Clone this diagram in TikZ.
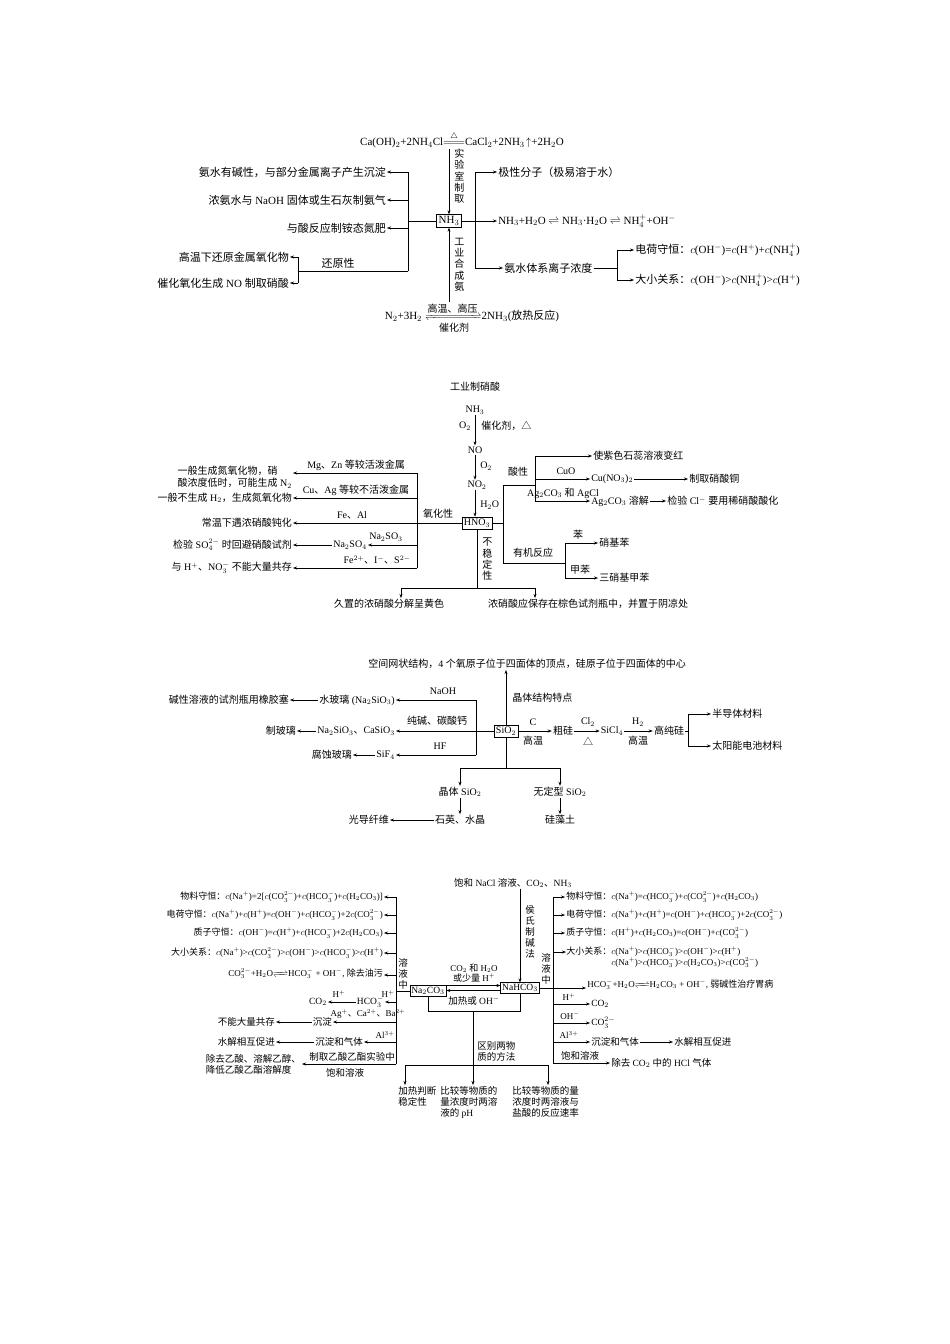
\documentclass[tikz,border=0pt]{standalone}
\usepackage{amsmath,mathtools}
\usepackage{fontspec}
\setmainfont{Liberation Serif}
\newfontfamily\cjk{Noto Sans CJK SC}
\newfontfamily\lat{Liberation Serif}
\usetikzlibrary{arrows.meta}
\XeTeXinterchartokenstate=1
\newXeTeXintercharclass\cjkclass
\newcount\cc
\def\setrange#1#2{\cc=#1\relax\loop\XeTeXcharclass\cc=\cjkclass\ifnum\cc<#2\advance\cc 1\repeat}
\setrange{"3000}{"303F}
\setrange{"4E00}{"9FFF}
\setrange{"FF00}{"FFEF}
\setrange{"25A0}{"25FF}
\XeTeXinterchartoks 0 \cjkclass={\cjk}
\XeTeXinterchartoks 4095 \cjkclass={\cjk}
\XeTeXinterchartoks \cjkclass 0={\lat}
\XeTeXinterchartoks \cjkclass 4095={\lat}
\newcommand\fA{\fontsize{11}{13}\selectfont}
\newcommand\fB{\fontsize{10}{12}\selectfont}
\newcommand\fC{\fontsize{9}{11}\selectfont}
\newcommand\fD{\fontsize{9.5}{11}\selectfont}
\tikzset{
  every node/.style={inner sep=1pt,font=\fB},
  arr/.style={-{Stealth[length=4pt,width=3pt]}},
  bx/.style={draw,inner sep=2pt},
  vt/.style={align=center,font=\fontsize{10}{11.2}\selectfont},
  lb/.style={font=\fB},
}
\begin{document}
\begin{tikzpicture}[x=1pt,y=-1pt,line width=0.5pt]
\useasboundingbox (0,0) rectangle (950,1344);
% ===== Section 1 =====
\begin{scope}[every node/.style={inner sep=1pt,font=\fA}]
\node[bx] (nh3) at (449,221) {NH$_3$};
\node (eq1) at (462,140) {Ca(OH)$_2$+2NH$_4$Cl$\stackrel{\triangle}{=\!=\!=}$CaCl$_2$+2NH$_3\!\uparrow$+2H$_2$O};
\draw[arr] (nh3.north |- eq1.south) -- (nh3.north);
\node[vt,anchor=north west] (v1) at (453,148) {实\\验\\室\\制\\取};
\node (eq2) at (472,318) {N$_2$+3H$_2\xrightleftharpoons[\mbox{\fontsize{10}{10}\selectfont 催化剂}]{\mbox{\fontsize{10}{10}\selectfont 高温、高压}}$2NH$_3$(放热反应)};
\draw[arr] (nh3.south |- eq2.north) -- (nh3.south);
\node[vt,anchor=north west] (v2) at (453,237) {工\\业\\合\\成\\氨};
% left
\draw (nh3.west) -- (408,221);
\draw (408,172) -- (408,271);
\node[anchor=east] (t1) at (387,172) {氨水有碱性，与部分金属离子产生沉淀};
\node[anchor=east] (t2) at (387,200) {浓氨水与 NaOH 固体或生石灰制氨气};
\node[anchor=east] (t3) at (387,228) {与酸反应制铵态氮肥};
\draw[arr] (408,172) -- (t1.east);
\draw[arr] (408,200) -- (t2.east);
\draw[arr] (408,228) -- (t3.east);
\draw (408,271) -- (298,271);
\draw (298,257) -- (298,283);
\node (hy) at (338,263) {还原性};
\node[anchor=east] (t4) at (290,257) {高温下还原金属氧化物};
\node[anchor=east] (t5) at (290,283) {催化氧化生成 NO 制取硝酸};
\draw[arr] (298,257) -- (t4.east);
\draw[arr] (298,283) -- (t5.east);
% right
\draw (nh3.east) -- (475,221);
\draw (475,172) -- (475,268);
\node[anchor=west] (r1) at (497,172) {极性分子（极易溶于水）};
\node[anchor=west] (r2) at (497,221) {NH$_3$+H$_2$O $\rightleftharpoons$ NH$_3$·H$_2$O $\rightleftharpoons$ NH$_4^+$+OH$^-$};
\node[anchor=west] (r3) at (503,268) {氨水体系离子浓度};
\draw[arr] (475,172) -- (r1.west);
\draw[arr] (475,221) -- (r2.west);
\draw[arr] (475,268) -- (r3.west);
\draw (r3.east) -- (617,268);
\draw (617,250) -- (617,280);
\node[anchor=west] (r4) at (634,250) {电荷守恒：$c$(OH$^-$)=$c$(H$^+$)+$c$(NH$_4^+$)};
\node[anchor=west] (r5) at (634,280) {大小关系：$c$(OH$^-$)>$c$(NH$_4^+$)>$c$(H$^+$)};
\draw[arr] (617,250) -- (r4.west);
\draw[arr] (617,280) -- (r5.west);
\end{scope}
% ===== Section 2 =====
\node (s2) at (475,387) {工业制硝酸};
\node (a1) at (475,410) {NH$_3$};
\node (a2) at (475,450) {NO};
\node (a3) at (477,485) {NO$_2$};
\node[bx] (hno3) at (477,523) {HNO$_3$};
\draw[arr] (a1) -- (a2);
\node[lb,anchor=east] at (472,426) {O$_2$};
\node[anchor=west] at (480,426) {催化剂，△};
\draw[arr] (a2) -- (a2 |- a3.north);
\node[lb,anchor=west] at (479,466) {O$_2$};
\draw[arr] (a2 |- a3.south) -- (a2 |- hno3.north);
\node[lb,anchor=west] at (479,505) {H$_2$O};
% left
\draw (417,473) -- (417,568);
\node[anchor=north east,align=left] (b1) at (293,465) {一般生成氮氧化物，硝\\酸浓度低时，可能生成 N$_2$};
\node[anchor=east] (b2) at (293,498) {一般不生成 H$_2$，生成氮氧化物};
\node[anchor=east] (b3) at (293,523) {常温下遇浓硝酸钝化};
\node[anchor=east] (b4a) at (368,545) {Na$_2$SO$_4$};
\node[anchor=east] (b4) at (293,545) {检验 SO$_4^{2-}$ 时回避硝酸试剂};
\node[anchor=east] (b5) at (293,568) {与 H$^+$、NO$_3^-$ 不能大量共存};
\draw[arr] (417,473) -- ([yshift=-8pt]b1.north east);
\draw[arr] (417,498) -- (b2.east);
\draw[arr] (hno3.west) -- (b3.east);
\draw[arr] (417,545) -- (b4a.east);
\draw[arr] (b4a.west) -- (b4.east);
\draw[arr] (417,568) -- (b5.east);
\node[lb] at (356,465) {Mg、Zn 等较活泼金属};
\node[lb] at (356,490) {Cu、Ag 等较不活泼金属};
\node[lb] at (352,515) {Fe、Al};
\node[lb] at (386,537) {Na$_2$SO$_3$};
\node[lb] at (377,560) {Fe$^{2+}$、I$^-$、S$^{2-}$};
\node at (438,514) {氧化性};
% down
\draw (hno3.south) -- (477,588);
\node[vt,anchor=north west] at (481,537) {不\\稳\\定\\性};
\draw (401,588) -- (535,588);
\node[anchor=north] (c1) at (389,598) {久置的浓硝酸分解呈黄色};
\node[anchor=north] (c2) at (588,598) {浓硝酸应保存在棕色试剂瓶中，并置于阴凉处};
\draw[arr] (401,588) -- (401,598);
\draw[arr] (535,588) -- (535,598);
% right
\draw (hno3.east) -- (503,523);
\draw (503,485) -- (503,563);
\draw (503,485) -- (535,485);
\node at (518,472) {酸性};
\draw (535,456) -- (535,501);
\node[anchor=west] (d1) at (592,456) {使紫色石蕊溶液变红};
\node[anchor=west] (d2) at (590,479) {Cu(NO$_3$)$_2$};
\node[anchor=west] (d3) at (688,479) {制取硝酸铜};
\node[anchor=west] (d4) at (590,501) {Ag$_2$CO$_3$ 溶解};
\node[anchor=west] (d5) at (666,501) {检验 Cl$^-$ 要用稀硝酸酸化};
\draw[arr] (535,456) -- (d1.west);
\draw[arr] (535,479) -- (d2.west);
\draw[arr] (d2.east) -- (d3.west);
\draw[arr] (535,501) -- (d4.west);
\draw[arr] (d4.east) -- (d5.west);
\node[lb] at (566,471) {CuO};
\node[lb] at (563,493) {Ag$_2$CO$_3$ 和 AgCl};
\draw (503,563) -- (565,563);
\node at (533,553) {有机反应};
\draw (565,543) -- (565,578);
\node[anchor=west] (e1) at (598,543) {硝基苯};
\node[anchor=west] (e2) at (598,578) {三硝基甲苯};
\draw[arr] (565,543) -- (e1.west);
\draw[arr] (565,578) -- (e2.west);
\node at (578,535) {苯};
\node at (580,570) {甲苯};
% ===== Section 3 =====
\node (top3) at (527,664) {空间网状结构，4 个氧原子位于四面体的顶点，硅原子位于四面体的中心};
\node[bx] (sio2) at (506,731) {SiO$_2$};
\draw[arr] (sio2.north) -- (sio2.north |- top3.south);
\node[anchor=west] at (511,698) {晶体结构特点};
\draw (476,700) -- (476,755);
\node[anchor=east] (f1) at (396,700) {水玻璃 (Na$_2$SiO$_3$)};
\node[anchor=east] (f2) at (396,731) {Na$_2$SiO$_3$、CaSiO$_3$};
\node[anchor=east] (f3) at (396,755) {SiF$_4$};
\node[anchor=east] (g1) at (290,700) {碱性溶液的试剂瓶用橡胶塞};
\node[anchor=east] (g2) at (297,731) {制玻璃};
\node[anchor=east] (g3) at (353,755) {腐蚀玻璃};
\draw[arr] (476,700) -- (f1.east);
\draw[arr] (sio2.west) -- (f2.east);
\draw[arr] (476,755) -- (f3.east);
\draw[arr] (f1.west) -- (g1.east);
\draw[arr] (f2.west) -- (g2.east);
\draw[arr] (f3.west) -- (g3.east);
\node at (443,691) {NaOH};
\node at (437,721) {纯碱、碳酸钙};
\node at (440,746) {HF};
\node (h1) at (563,731) {粗硅};
\node (h2) at (612,731) {SiCl$_4$};
\node (h3) at (669,731) {高纯硅};
\draw[arr] (sio2.east) -- (h1.west);
\draw[arr] (h1.east) -- (h2.west);
\draw[arr] (h2.east) -- (h3.west);
\node at (533,722) {C};
\node at (533,741) {高温};
\node at (588,722) {Cl$_2$};
\node at (588,741) {△};
\node at (638,722) {H$_2$};
\node at (638,741) {高温};
\draw (h3.east) -- (688,731);
\draw (688,714) -- (688,746);
\node[anchor=west] (h4) at (711,714) {半导体材料};
\node[anchor=west] (h5) at (711,746) {太阳能电池材料};
\draw[arr] (688,714) -- (h4.west);
\draw[arr] (688,746) -- (h5.west);
\draw (sio2.south) -- (506,768);
\draw (460,768) -- (560,768);
\node (i1) at (460,792) {晶体 SiO$_2$};
\node (i2) at (560,792) {无定型 SiO$_2$};
\draw[arr] (460,768) -- (i1.north);
\draw[arr] (560,768) -- (i2.north);
\node (i3) at (460,820) {石英、水晶};
\node[anchor=east] (i4) at (390,820) {光导纤维};
\node (i5) at (560,820) {硅藻土};
\draw[arr] (i1.south) -- (i3.north);
\draw[arr] (i2.south) -- (i5.north);
\draw[arr] (i3.west) -- (i4.east);
% ===== Section 4 =====
\begin{scope}[every node/.style={inner sep=1pt,font=\fD}]
\node (top4) at (513,883) {饱和 NaCl 溶液、CO$_2$、NH$_3$};
\node[bx,inner sep=1.5pt] (na) at (428,991) {Na$_2$CO$_3$};
\node[bx,inner sep=1.5pt] (nb) at (520,988) {NaHCO$_3$};
\draw[arr] (nb.north |- top4.south) -- (nb.north);
\node[vt,font=\fD,anchor=north west] at (524,904) {侯\\氏\\制\\碱\\法};
\draw[arr] ([yshift=2.5pt]na.east |- nb.west) -- ([yshift=2.5pt]nb.west);
\draw[arr] ([yshift=-2.5pt]nb.west) -- ([yshift=-2.5pt]na.east |- nb.west);
\node[align=center,font=\fontsize{9}{10}\selectfont] at (474,973) {CO$_2$ 和 H$_2$O\\或少量 H$^+$};
\node at (474,1001) {加热或 OH$^-$};
\draw (na.south) -- (428,1011) -- (520,1011) -- (nb.south);
\draw (473,1011) -- (473,1065);
\node[anchor=west,align=left] at (476,1051) {区别两物\\质的方法};
\draw (405,1065) -- (548,1065);
\node[anchor=north west,align=left] (j1) at (397,1085) {加热判断\\稳定性};
\node[anchor=north west,align=left] (j2) at (439,1085) {比较等物质的\\量浓度时两溶\\液的 pH};
\node[anchor=north west,align=left] (j3) at (511,1085) {比较等物质的量\\浓度时两溶液与\\盐酸的反应速率};
\draw[arr] (405,1065) -- (405,1085);
\draw[arr] (473,1065) -- (473,1085);
\draw[arr] (548,1065) -- (548,1085);
% left side
\draw (na.west) -- (396,991);
\draw (396,897) -- (396,1064);
\node[vt,font=\fD,anchor=north] at (403,957) {溶\\液\\中};
\node[font=\fC,anchor=east] (k1) at (384,897) {物料守恒：$c$(Na$^+$)=2[$c$(CO$_3^{2-}$)+$c$(HCO$_3^-$)+$c$(H$_2$CO$_3$)]};
\node[font=\fC,anchor=east] (k2) at (384,915) {电荷守恒：$c$(Na$^+$)+$c$(H$^+$)=$c$(OH$^-$)+$c$(HCO$_3^-$)+2$c$(CO$_3^{2-}$)};
\node[font=\fC,anchor=east] (k3) at (384,933) {质子守恒：$c$(OH$^-$)=$c$(H$^+$)+$c$(HCO$_3^-$)+2$c$(H$_2$CO$_3$)};
\node[font=\fC,anchor=east] (k4) at (384,953) {大小关系：$c$(Na$^+$)>$c$(CO$_3^{2-}$)>$c$(OH$^-$)>$c$(HCO$_3^-$)>$c$(H$^+$)};
\node[font=\fC,anchor=east] (k5) at (384,975) {CO$_3^{2-}$+H$_2$O$\xrightleftharpoons{\quad}$HCO$_3^-$ + OH$^-$, 除去油污};
\foreach \k/\y in {k1/897,k2/915,k3/933,k4/953,k5/975} \draw[arr] (396,\y) -- (\k.east);
\node[anchor=east] (m1) at (385,1002) {HCO$_3^-$};
\node[anchor=east] (m2) at (328,1002) {CO$_2$};
\draw[arr] (396,1002) -- (m1.east);
\draw[arr] (m1.west) -- (m2.east);
\node[font=\fC] at (388,994) {H$^+$};
\node[font=\fC] at (339,994) {H$^+$};
\node[anchor=east] (m3) at (333,1022) {沉淀};
\node[anchor=east] (m4) at (276,1022) {不能大量共存};
\draw[arr] (396,1022) -- (m3.east);
\draw[arr] (m3.west) -- (m4.east);
\node[font=\fC] at (368,1014) {Ag$^+$、Ca$^{2+}$、Ba$^{2+}$};
\node[anchor=east] (m5) at (364,1042) {沉淀和气体};
\node[anchor=east] (m6) at (276,1042) {水解相互促进};
\draw[arr] (396,1042) -- (m5.east);
\draw[arr] (m5.west) -- (m6.east);
\node[font=\fC] at (385,1035) {Al$^{3+}$};
\node[anchor=east,align=left] (m7) at (302,1064) {除去乙酸、溶解乙醇、\\降低乙酸乙酯溶解度};
\draw[arr] (396,1064) -- (m7.east);
\node[anchor=south east] at (396,1063) {制取乙酸乙酯实验中};
\node at (345,1073) {饱和溶液};
% right side
\draw (nb.east) -- (553,988);
\draw (553,897) -- (553,1063);
\node[vt,font=\fD,anchor=north] at (546,952) {溶\\液\\中};
\node[font=\fC,anchor=west] (n1) at (565,897) {物料守恒：$c$(Na$^+$)=$c$(HCO$_3^-$)+$c$(CO$_3^{2-}$)+$c$(H$_2$CO$_3$)};
\node[font=\fC,anchor=west] (n2) at (565,915) {电荷守恒：$c$(Na$^+$)+$c$(H$^+$)=$c$(OH$^-$)+$c$(HCO$_3^-$)+2$c$(CO$_3^{2-}$)};
\node[font=\fC,anchor=west] (n3) at (565,933) {质子守恒：$c$(H$^+$)+$c$(H$_2$CO$_3$)=$c$(OH$^-$)+$c$(CO$_3^{2-}$)};
\node[font=\fC,anchor=north west,align=left] (n4) at (565,945) {大小关系：$c$(Na$^+$)>$c$(HCO$_3^-$)>$c$(OH$^-$)>$c$(H$^+$)\\\hphantom{大小关系：}$c$(Na$^+$)>$c$(HCO$_3^-$)>$c$(H$_2$CO$_3$)>$c$(CO$_3^{2-}$)};
\foreach \y in {897,915,933} \draw[arr] (553,\y) -- (565,\y);
\draw[arr] (553,952) -- (566,952);
\node[font=\fC,anchor=west] (n5) at (586,986) {HCO$_3^-$+H$_2$O$\xrightleftharpoons{\quad}$H$_2$CO$_3$ + OH$^-$, 弱碱性治疗胃病};
\draw[arr] (nb.east -| 553,0) -- (n5.west |- nb.east);
\node[anchor=west] (p1) at (590,1004) {CO$_2$};
\node[anchor=west] (p2) at (590,1023) {CO$_3^{2-}$};
\node[anchor=west] (p3) at (590,1042) {沉淀和气体};
\node[anchor=west] (p4) at (673,1042) {水解相互促进};
\node[anchor=west] (p5) at (610,1063) {除去 CO$_2$ 中的 HCl 气体};
\draw[arr] (553,1004) -- (p1.west);
\draw[arr] (553,1023) -- (p2.west);
\draw[arr] (553,1042) -- (p3.west);
\draw[arr] (p3.east) -- (p4.west);
\draw[arr] (553,1063) -- (p5.west);
\node[font=\fC] at (569,997) {H$^+$};
\node[font=\fC] at (570,1016) {OH$^-$};
\node[font=\fC] at (569,1035) {Al$^{3+}$};
\node at (580,1056) {饱和溶液};
\end{scope}
\end{tikzpicture}
\end{document}
